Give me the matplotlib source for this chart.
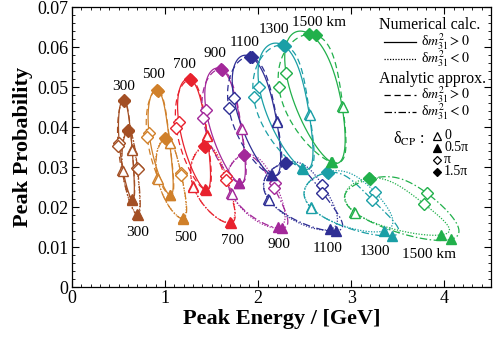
import numpy as np
import matplotlib
matplotlib.use('Agg')
import matplotlib.pyplot as plt
from matplotlib.ticker import MultipleLocator, FuncFormatter

plt.rcParams['font.family'] = ['Liberation Serif', 'DejaVu Serif']
plt.rcParams['mathtext.fontset'] = 'stix'

baselines = [300, 500, 700, 900, 1100, 1300, 1500]
colors = ['#a34f24', '#d0802a', '#e8222e', '#a3289a', '#2e2e94', '#1a9fa6', '#21b04b']
delta_labels = ['0', '0.5π', 'π', '1.5π']

# Peak energy [GeV] / peak probability at delta_CP = 0, 0.5pi, pi, 1.5pi
# Numerical, dm31^2 > 0
E_num_pos = [[0.646, 0.646, 0.507, 0.557],
             [1.049, 1.050, 0.828, 0.917],
             [1.450, 1.430, 1.146, 1.270],
             [1.817, 1.790, 1.440, 1.600],
             [2.198, 2.140, 1.738, 1.916],
             [2.548, 2.470, 2.010, 2.262],
             [2.900, 2.780, 2.300, 2.548]]
P_num_pos = [[0.0344, 0.0219, 0.0361, 0.0468],
             [0.0361, 0.0230, 0.0384, 0.0493],
             [0.0380, 0.0244, 0.0413, 0.0519],
             [0.0397, 0.0261, 0.0442, 0.0545],
             [0.0415, 0.0280, 0.0472, 0.0576],
             [0.0432, 0.0297, 0.0501, 0.0605],
             [0.0452, 0.0313, 0.0534, 0.0633]]
# Analytic, dm31^2 > 0
E_ana_pos = [[0.648, 0.648, 0.496, 0.560],
             [1.052, 1.053, 0.806, 0.922],
             [1.455, 1.435, 1.120, 1.278],
             [1.822, 1.795, 1.406, 1.610],
             [2.205, 2.150, 1.684, 1.930],
             [2.555, 2.480, 1.950, 2.290],
             [2.910, 2.790, 2.220, 2.620]]
P_ana_pos = [[0.0342, 0.0218, 0.0353, 0.0466],
             [0.0359, 0.0229, 0.0376, 0.0491],
             [0.0378, 0.0243, 0.0398, 0.0517],
             [0.0395, 0.0260, 0.0423, 0.0543],
             [0.0413, 0.0279, 0.0447, 0.0574],
             [0.0430, 0.0296, 0.0474, 0.0603],
             [0.0450, 0.0312, 0.0501, 0.0630]]
# Numerical, dm31^2 < 0
E_num_neg = [[0.542, 0.703, 0.700, 0.603],
             [0.917, 1.188, 1.170, 1.003],
             [1.300, 1.700, 1.656, 1.420],
             [1.710, 2.216, 2.180, 1.845],
             [2.110, 2.770, 2.690, 2.290],
             [2.566, 3.350, 3.250, 2.744],
             [3.030, 3.960, 3.780, 3.190]]
P_num_neg = [[0.0293, 0.0183, 0.0297, 0.0393],
             [0.0272, 0.0173, 0.0284, 0.0372],
             [0.0253, 0.0162, 0.0278, 0.0352],
             [0.0234, 0.0149, 0.0261, 0.0331],
             [0.0220, 0.0144, 0.0255, 0.0311],
             [0.0199, 0.0140, 0.0238, 0.0288],
             [0.0188, 0.0130, 0.0208, 0.0272]]
# Analytic, dm31^2 < 0
E_ana_neg = [[0.545, 0.706, 0.705, 0.606],
             [0.920, 1.192, 1.175, 1.006],
             [1.303, 1.705, 1.656, 1.424],
             [1.714, 2.260, 2.170, 1.850],
             [2.115, 2.840, 2.690, 2.295],
             [2.572, 3.440, 3.226, 2.750],
             [3.040, 4.070, 3.815, 3.200]]
P_ana_neg = [[0.0290, 0.0180, 0.0294, 0.0390],
             [0.0270, 0.0171, 0.0280, 0.0370],
             [0.0251, 0.0160, 0.0267, 0.0350],
             [0.0232, 0.0147, 0.0248, 0.0329],
             [0.0218, 0.0140, 0.0236, 0.0309],
             [0.0197, 0.0128, 0.0218, 0.0286],
             [0.0186, 0.0119, 0.0234, 0.0270]]

top_label_E = [0.55, 0.88, 1.21, 1.53, 1.85, 2.17, 2.65]
top_label_P = [0.0502, 0.0530, 0.0555, 0.0584, 0.0611, 0.0644, 0.0660]
bot_label_E = [0.70, 1.217, 1.727, 2.227, 2.745, 3.255, 3.83]
bot_label_P = [0.0136, 0.0124, 0.0116, 0.0105, 0.0097, 0.0088, 0.0082]


def loop(vals):
    v = np.asarray(vals, dtype=float)
    c0 = v.mean()
    a = (v[0] - v[2]) / 2
    b = (v[1] - v[3]) / 2
    c2 = (v[0] - v[1] + v[2] - v[3]) / 4
    d = np.linspace(0, 2 * np.pi, 300)
    return c0 + a * np.cos(d) + b * np.sin(d) + c2 * np.cos(2 * d)


fig = plt.figure(figsize=(4.94, 3.39), dpi=100)
ax = fig.add_axes([72 / 494, 1 - 287 / 339, 419 / 494, 280 / 339])

ls_num_pos = '-'
ls_num_neg = (0, (1, 1.2))
ls_ana_pos = (0, (5, 3))
ls_ana_neg = (0, (6, 2, 1.2, 2))

marker_styles = [('^', False), ('^', True), ('D', False), ('D', True)]
msize = {'^': 7.5, 'D': 6}

for i, col in enumerate(colors):
    sets = [(E_num_pos[i], P_num_pos[i], ls_num_pos),
            (E_ana_pos[i], P_ana_pos[i], ls_ana_pos),
            (E_num_neg[i], P_num_neg[i], ls_num_neg),
            (E_ana_neg[i], P_ana_neg[i], ls_ana_neg)]
    for E, P, ls in sets:
        ax.plot(loop(E), loop(P), color=col, lw=0.9, ls=ls, zorder=2)
    for E, P, ls in sets:
        for k, (m, filled) in enumerate(marker_styles):
            ax.plot(E[k], P[k], marker=m, ms=msize[m], color=col,
                    mec=col, mfc=col if filled else 'white', mew=1.0,
                    ls='none', zorder=3)
    lab = f'{baselines[i]} km' if baselines[i] == 1500 else f'{baselines[i]}'
    ax.text(top_label_E[i], top_label_P[i], lab, ha='center', va='center', fontsize=11)
    ax.text(bot_label_E[i], bot_label_P[i], lab, ha='center', va='center', fontsize=11)

ax.set_xlim(0, 4.5)
ax.set_ylim(0, 0.07)
ax.xaxis.set_major_locator(MultipleLocator(1))
ax.xaxis.set_minor_locator(MultipleLocator(0.1))
ax.yaxis.set_major_locator(MultipleLocator(0.01))
ax.yaxis.set_minor_locator(MultipleLocator(0.002))
ax.xaxis.set_major_formatter(FuncFormatter(lambda v, p: f'{v:.0f}'))
ax.yaxis.set_major_formatter(FuncFormatter(lambda v, p: '0' if abs(v) < 1e-9 else f'{v:.2f}'))
ax.tick_params(which='both', direction='in', top=True, right=True, labelsize=13)
ax.tick_params(which='major', length=5, width=0.8, pad=2.5)
ax.tick_params(which='minor', length=2.5, width=0.6)
for s in ax.spines.values():
    s.set_linewidth(0.9)

ax.set_xlabel('Peak Energy / [GeV]', fontsize=16, fontweight='bold', labelpad=1)
ax.set_ylabel('Peak Probability', fontsize=16, fontweight='bold', labelpad=3)

# legend (drawn in axes coordinates)
T = ax.transAxes
def ax_xy(px, py):
    return (px - 72) / 419, (287 - py) / 280

x0, y0 = ax_xy(379, 25)
ax.text(x0, y0, 'Numerical calc.', transform=T, fontsize=11.5, va='center', ha='left')
x0, y0 = ax_xy(379, 79)
ax.text(x0, y0, 'Analytic approx.', transform=T, fontsize=11.5, va='center', ha='left')
for py, ls, txt in [(42, ls_num_pos, r'δ$m^2_{31} > 0$'), (59, ls_num_neg, r'δ$m^2_{31} < 0$'),
                    (95, ls_ana_pos, r'δ$m^2_{31} > 0$'), (112, ls_ana_neg, r'δ$m^2_{31} < 0$')]:
    xa, ya = ax_xy(384, py)
    xb, _ = ax_xy(416, py)
    ax.plot([xa, xb], [ya, ya], transform=T, color='black', lw=0.9, ls=ls)
    xt, _ = ax_xy(421, py)
    ax.text(xt, ya, txt, transform=T, fontsize=10, va='center', ha='left')

xd, yd = ax_xy(393, 139)
ax.text(xd, yd, r'δ$_{\rm CP}$ :', transform=T, fontsize=11.5, va='center', ha='left')
for k, py in enumerate([136, 148, 160, 172]):
    m, filled = marker_styles[k]
    xm, ym = ax_xy(437, py)
    ax.plot(xm, ym, transform=T, marker=m, ms=msize[m] * 0.75, color='black',
            mfc='black' if filled else 'white', mec='black', mew=0.9, ls='none')
    xt, _ = ax_xy(444, py)
    ax.text(xt, ym, delta_labels[k], transform=T, fontsize=10, va='center', ha='left')

fig.savefig('out.png', dpi=100)
